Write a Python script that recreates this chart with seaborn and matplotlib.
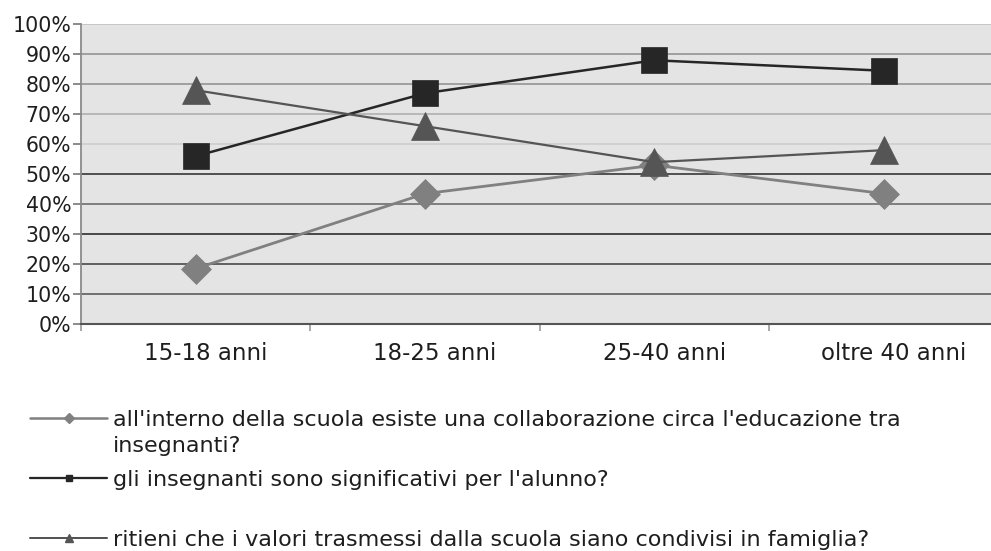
import matplotlib
matplotlib.use("Agg")
import matplotlib.pyplot as plt
import matplotlib.transforms as mtransforms
from matplotlib.lines import Line2D
import pandas as pd
import seaborn as sns

# Age groups and answer shares (%) for each survey question
categories = ["15-18 anni", "18-25 anni", "25-40 anni", "oltre 40 anni"]
collaborazione = [18.5, 43.5, 53, 43.5]
significativi = [56, 77, 88, 84.5]
valori_condivisi = [78, 66, 54, 58]

series_labels = [
    "all'interno della scuola esiste una collaborazione circa l'educazione tra",
    "gli insegnanti sono significativi per l'alunno?",
    "ritieni che i valori trasmessi dalla scuola siano condivisi in famiglia?",
]
label_continuation = "insegnanti?"
y_ticks = list(range(0, 101, 10))

df = pd.DataFrame({
    "fascia": categories * 3,
    "valore": collaborazione + significativi + valori_condivisi,
    "domanda": [series_labels[0]] * 4 + [series_labels[1]] * 4 + [series_labels[2]] * 4,
})

colors = {series_labels[0]: "#808080", series_labels[1]: "#262626", series_labels[2]: "#555555"}
markers = {series_labels[0]: "D", series_labels[1]: "s", series_labels[2]: "^"}
marker_sizes = {series_labels[0]: 15, series_labels[1]: 18.5, series_labels[2]: 20}
line_widths = {series_labels[0]: 2.0, series_labels[1]: 1.8, series_labels[2]: 1.6}

sns.set_theme(style="white")
plt.rcParams["font.family"] = ["DejaVu Sans"]

W, H = 991, 551
fig = plt.figure(figsize=(W / 100, H / 100), dpi=100)
ax = fig.add_axes([81 / W, (H - 324) / H, 917.5 / W, (324 - 24.3) / H])
ax.set_facecolor("#e4e4e4")

sns.lineplot(
    data=df, x="fascia", y="valore", hue="domanda", style="domanda",
    hue_order=series_labels, style_order=series_labels,
    palette=colors, markers=markers, dashes=False, sort=False,
    legend=False, ax=ax,
)
for line, lab in zip(ax.lines, series_labels):
    c = colors[lab]
    line.set_markersize(marker_sizes[lab])
    line.set_linewidth(line_widths[lab])
    line.set_markeredgecolor(c)
    line.set_markerfacecolor(c)
    line.set_markeredgewidth(0.5)
    line.set_zorder(3)

ax.set_xlim(-0.5, 3.5)
ax.set_ylim(0, 100)
ax.set_xlabel("")
ax.set_ylabel("")

# y axis: percentage ticks and horizontal gridlines
ax.set_yticks(y_ticks)
ax.set_yticklabels([f"{t}%" for t in y_ticks])
ax.tick_params(axis="y", length=6, width=1.2, color="#777777", pad=1,
               labelsize=14.8, labelcolor="#1e1e1e", left=True)
ax.grid(True, axis="y", linewidth=1.3)
ax.grid(False, axis="x")
grid_colors = ["#555555", "#666666", "#555555", "#3c3c3c", "#777777", "#444444",
               "#cfcfcf", "#b4b4b4", "#9a9a9a", "#9a9a9a", "#c4c4c4"]
for gl, gc in zip(ax.get_ygridlines(), grid_colors):
    gl.set_color(gc)
ax.set_axisbelow(True)

# x axis: category labels with separator ticks between groups
ax.set_xticks(range(len(categories)))
ax.set_xticklabels(categories)
ax.set_xticks([-0.5, 0.5, 1.5, 2.5], minor=True)
ax.tick_params(axis="x", which="major", length=0, pad=13, labelsize=16.5, labelcolor="#1e1e1e")
ax.tick_params(axis="x", which="minor", length=5, width=1.2, color="#999999", bottom=True)
shift = mtransforms.ScaledTranslation(0.1, 0, fig.dpi_scale_trans)
for lab in ax.get_xticklabels():
    lab.set_transform(lab.get_transform() + shift)

for side in ("top", "right"):
    ax.spines[side].set_visible(False)
ax.spines["left"].set_color("#8a8a8a")
ax.spines["left"].set_linewidth(1.3)
ax.spines["bottom"].set_color("#555555")
ax.spines["bottom"].set_linewidth(1.5)

# legend below the chart
legend_size = 16
handles = [
    Line2D([], [], color=colors[lab], lw=line_widths[lab] * 0.9, marker=markers[lab],
           markersize={"D": 5, "s": 5, "^": 6}[markers[lab]], markeredgecolor=colors[lab])
    for lab in series_labels
]
fs_px = legend_size * 100 / 72
leg = fig.legend(
    handles, series_labels, loc="upper left", bbox_to_anchor=(30 / W, (H - 410) / H),
    frameon=False, fontsize=legend_size, handlelength=77 / fs_px, handletextpad=6 / fs_px,
    labelspacing=1.79, borderpad=0, borderaxespad=0, labelcolor="#1e1e1e",
)

fig.canvas.draw()
renderer = fig.canvas.get_renderer()
first = leg.get_texts()[0].get_window_extent(renderer)
fig.text(first.x0 / W, (first.y0 - 26) / H, label_continuation, fontsize=legend_size,
         color="#1e1e1e", ha="left", va="bottom")

fig.savefig("out.png", dpi=100)
